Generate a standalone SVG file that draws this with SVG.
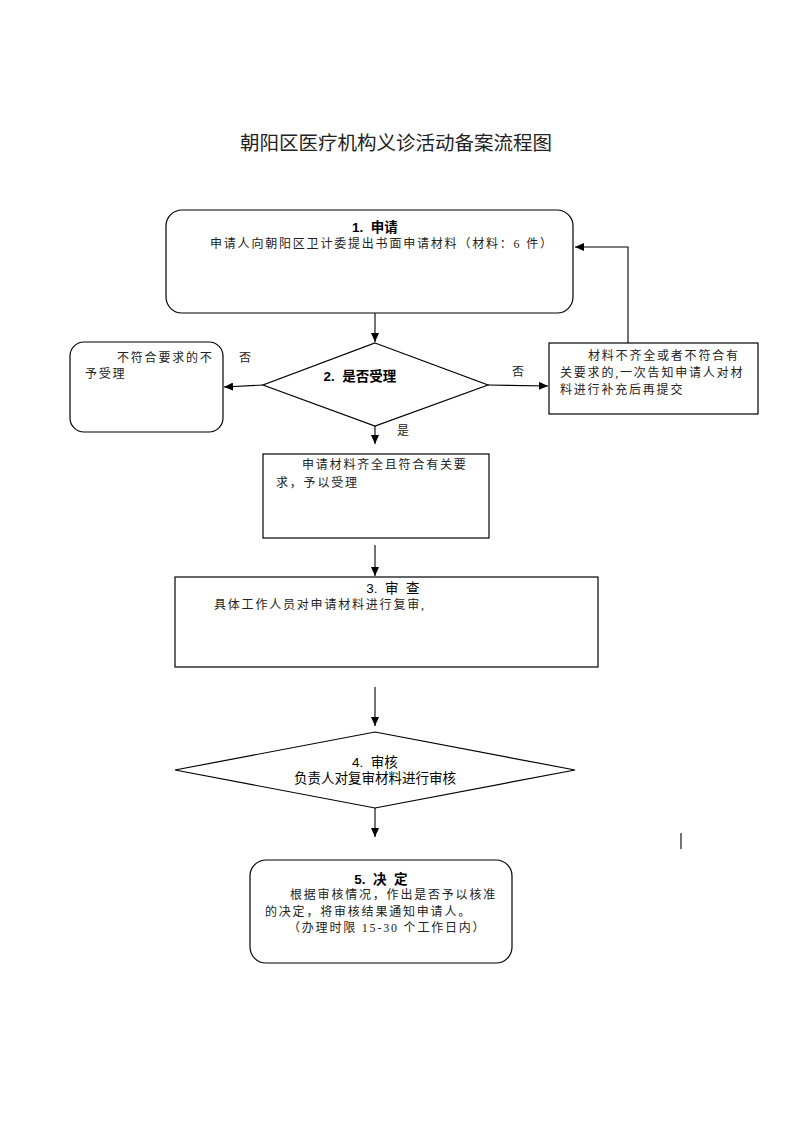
<svg xmlns="http://www.w3.org/2000/svg" width="793" height="1122" viewBox="0 0 793 1122">
<style>
.shape{fill:#fff;stroke:#000;stroke-width:1.2}
.line{fill:none;stroke:#000;stroke-width:1.1}
.t{font-family:"Liberation Serif","Noto Sans CJK SC",serif;font-size:12px;fill:#222;letter-spacing:1.8px}
.h{font-family:"Liberation Sans","Noto Sans CJK SC",sans-serif;font-size:13.5px;fill:#000}
.title{font-family:"Liberation Serif","Noto Sans CJK SC",serif;font-size:19.5px;fill:#222}
</style>
<defs>
<marker id="ah" markerWidth="10" markerHeight="8" refX="9" refY="4" orient="auto" markerUnits="userSpaceOnUse">
<path d="M0,0 L9,4 L0,8 Z" fill="#000"/>
</marker>
</defs>
<rect width="793" height="1122" fill="#fff"/>
<text class="title" x="396" y="150" text-anchor="middle">朝阳区医疗机构义诊活动备案流程图</text>

<g id="connectors">
<line class="line" x1="375" y1="313" x2="375" y2="342" marker-end="url(#ah)"/>
<line class="line" x1="263" y1="385" x2="224" y2="387" marker-end="url(#ah)"/>
<line class="line" x1="488" y1="385" x2="548" y2="386" marker-end="url(#ah)"/>
<polyline class="line" points="628,343 628,247 575,247" marker-end="url(#ah)"/>
<line class="line" x1="375" y1="426" x2="375" y2="444" marker-end="url(#ah)"/>
<line class="line" x1="375" y1="545" x2="375" y2="576" marker-end="url(#ah)"/>
<line class="line" x1="375" y1="687" x2="375" y2="726" marker-end="url(#ah)"/>
<line class="line" x1="375" y1="808" x2="375" y2="837" marker-end="url(#ah)"/>
<line class="line" x1="681" y1="833" x2="681" y2="849"/>
<text class="t" x="239" y="362">否</text>
<text class="t" x="512" y="376">否</text>
<text class="t" x="397" y="435">是</text>
</g>

<g id="n1">
<rect class="shape" x="166" y="210" width="407" height="103" rx="16"/>
<text class="h" x="375" y="232" text-anchor="middle" font-weight="bold" xml:space="preserve">1.  申请</text>
<text class="t" x="210" y="248">申请人向朝阳区卫计委提出书面申请材料（材料：6 件）</text>
</g>

<g id="n2">
<polygon class="shape" points="375,343 488,385 375,426 263,385"/>
<text class="h" x="360" y="381" text-anchor="middle" font-weight="bold" xml:space="preserve">2.  是否受理</text>
</g>

<g id="n2no">
<rect class="shape" x="70" y="342" width="153" height="90" rx="14"/>
<text class="t" x="117" y="362">不符合要求的不</text>
<text class="t" x="85" y="378">予受理</text>
</g>

<g id="n2fix">
<rect class="shape" x="549" y="343" width="209" height="71"/>
<text class="t" x="588" y="360">材料不齐全或者不符合有</text>
<text class="t" x="560" y="377">关要求的,一次告知申请人对材</text>
<text class="t" x="560" y="394">料进行补充后再提交</text>
</g>

<g id="n2yes">
<rect class="shape" x="263" y="454" width="226" height="84"/>
<text class="t" x="302" y="469">申请材料齐全且符合有关要</text>
<text class="t" x="276" y="487">求，予以受理</text>
</g>

<g id="n3">
<rect class="shape" x="175" y="577" width="423" height="90"/>
<text class="h" x="393" y="593" text-anchor="middle" xml:space="preserve">3.  审  查</text>
<text class="t" x="214" y="609">具体工作人员对申请材料进行复审,</text>
</g>

<g id="n4">
<polygon class="shape" points="375,732 575,770 375,808 175,770"/>
<text class="h" x="375" y="767" text-anchor="middle" xml:space="preserve">4.  审核</text>
<text class="h" x="375" y="783" text-anchor="middle">负责人对复审材料进行审核</text>
</g>

<g id="n5">
<rect class="shape" x="250" y="860" width="262" height="103" rx="16"/>
<text class="h" x="381" y="884" text-anchor="middle" font-weight="bold" xml:space="preserve">5.  决  定</text>
<text class="t" x="290" y="899">根据审核情况，作出是否予以核准</text>
<text class="t" x="265" y="916">的决定，将审核结果通知申请人。</text>
<text class="t" x="288" y="932">（办理时限 15-30 个工作日内）</text>
</g>
</svg>
